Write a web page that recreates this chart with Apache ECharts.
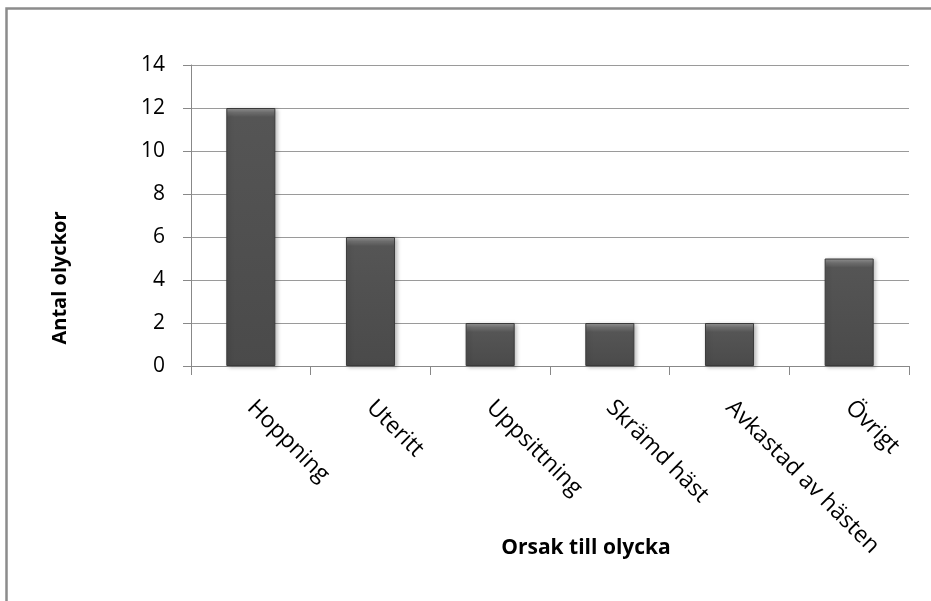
<!DOCTYPE html>
<html>
<head>
<meta charset="utf-8">
<script src="https://cdn.jsdelivr.net/npm/echarts@6/dist/echarts.min.js"></script>
<style>
  html, body { margin: 0; padding: 0; background: #fff; }
  #chart { width: 931px; height: 601px; }
</style>
</head>
<body>
<div id="chart"></div>
<script>
// orsaker och antal olyckor
const categories = ['Hoppning', 'Uteritt', 'Uppsittning', 'Skrämd häst', 'Avkastad av hästen', 'Övrigt'];
const counts = [12, 6, 2, 2, 2, 5];
const yTicks = [0, 2, 4, 6, 8, 10, 12, 14];

const FONT = '"Open Sans", "Liberation Sans", sans-serif';
const plotH = 301; // höjd på ritytan i px, används bara för bevel-effekten

// mörkgrå stapel med ljusare kant upptill
function barStyle(v) {
  const px = v * plotH / yTicks[yTicks.length - 1];
  const f = Math.min(0.5, 9 / px);
  return {
    color: new echarts.graphic.LinearGradient(0, 0, 0, 1, [
      { offset: 0, color: '#9a9a9a' },
      { offset: f * 0.5, color: '#6e6e6e' },
      { offset: f, color: '#555555' },
      { offset: 1, color: '#4a4a4a' }
    ]),
    borderColor: '#3a3a3a',
    borderWidth: 1,
    shadowColor: 'rgba(0,0,0,0.25)',
    shadowBlur: 4,
    shadowOffsetX: 2,
    shadowOffsetY: 1
  };
}

const chart = echarts.init(document.getElementById('chart'));
chart.setOption({
  animation: false,
  textStyle: { fontFamily: FONT },
  grid: { left: 191, top: 65, right: 22, bottom: 235 },
  graphic: [
    {
      type: 'rect',
      shape: { x: 6.5, y: 8.5, width: 1000, height: 700 },
      style: { fill: 'none', stroke: '#8c8c8c', lineWidth: 2.5 },
      silent: true
    },
    {
      type: 'text',
      x: 60, y: 278,
      rotation: Math.PI / 2,
      style: {
        text: 'Antal olyckor', font: 'bold 20px ' + FONT, fill: '#000',
        align: 'center', verticalAlign: 'middle'
      }
    },
    {
      type: 'text',
      x: 586, y: 548,
      style: {
        text: 'Orsak till olycka', font: 'bold 21px ' + FONT, fill: '#000',
        align: 'center', verticalAlign: 'middle'
      }
    }
  ],
  xAxis: {
    type: 'category',
    data: categories,
    boundaryGap: true,
    axisLine: { lineStyle: { color: '#888', width: 1 } },
    axisTick: { show: true, length: 9, alignWithLabel: false, lineStyle: { color: '#888' } },
    axisLabel: {
      rotate: -45, margin: 38, interval: 0,
      color: '#000', fontSize: 23, fontFamily: FONT
    }
  },
  yAxis: {
    type: 'value',
    min: yTicks[0],
    max: yTicks[yTicks.length - 1],
    interval: 2,
    axisLine: { show: true, lineStyle: { color: '#888', width: 1 } },
    axisTick: { show: true, length: 8, lineStyle: { color: '#888' } },
    splitLine: { lineStyle: { color: '#9a9a9a', width: 1 } },
    axisLabel: { margin: 26, color: '#000', fontSize: 21, fontFamily: FONT }
  },
  series: [{
    type: 'bar',
    barWidth: '41%',
    data: counts.map(v => ({ value: v, itemStyle: barStyle(v) }))
  }]
});
</script>
</body>
</html>
